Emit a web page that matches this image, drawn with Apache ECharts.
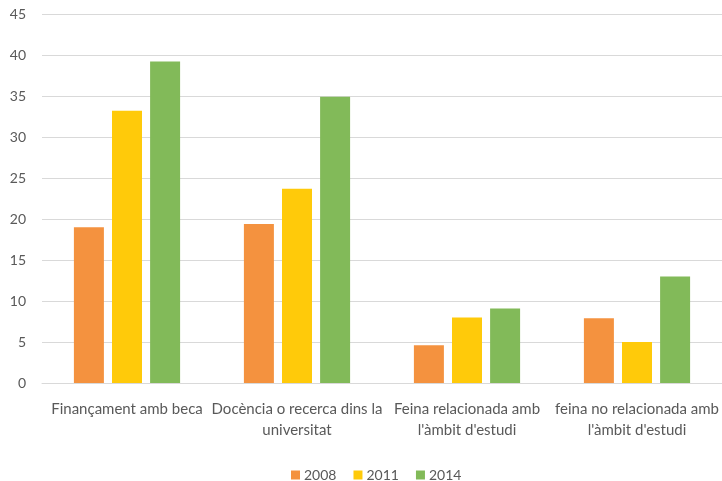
<!DOCTYPE html>
<html><head><meta charset="utf-8">
<script src="https://cdn.jsdelivr.net/npm/echarts@6/dist/echarts.min.js"></script>
<style>html,body{margin:0;padding:0;background:#fff}#c{width:722px;height:481px}</style>
</head><body><div id="c"></div>
<script>
var categories = ["Finançament amb beca", "Docència o recerca dins la\nuniversitat", "Feina relacionada amb\nl'àmbit d'estudi", "feina no relacionada amb\nl'àmbit d'estudi"];
var seriesNames = ["2008", "2011", "2014"];
var values2008 = [19.0, 19.4, 4.6, 7.9];
var values2011 = [33.2, 23.7, 8.0, 5.0];
var values2014 = [39.2, 34.9, 9.1, 13.0];
var yTicks = [0, 5, 10, 15, 20, 25, 30, 35, 40, 45];

var colors = ["#F4923F", "#FFCA0A", "#82BA59"];
var font = "Lato, 'Open Sans', sans-serif";
var data = [values2008, values2011, values2014];
var chart = echarts.init(document.getElementById('c'), null, {renderer: 'canvas'});
chart.setOption({
  animation: false,
  textStyle: {fontFamily: font},
  grid: {left: 42, right: 0, top: 14, bottom: 98, containLabel: false},
  legend: {
    data: seriesNames, left: 286, top: 463, itemWidth: 9, itemHeight: 9, itemGap: 17,
    icon: 'rect', textStyle: {color: '#595959', fontSize: 14, fontFamily: font, padding: [0,0,0,-1]}
  },
  xAxis: {
    type: 'category', data: categories,
    axisLine: {show: true, lineStyle: {color: '#d9d9d9'}},
    axisTick: {show: false},
    axisLabel: {color: '#595959', fontSize: 15, lineHeight: 21, margin: 16, interval: 0, fontFamily: font}
  },
  yAxis: {
    type: 'value', min: yTicks[0], max: yTicks[yTicks.length - 1], interval: 5,
    axisLine: {show: false}, axisTick: {show: false},
    splitLine: {lineStyle: {color: '#d9d9d9', width: 1}},
    axisLabel: {color: '#595959', fontSize: 14, margin: 16, fontFamily: font}
  },
  series: seriesNames.map(function (n, i) {
    return {
      name: n, type: 'bar', data: data[i], barWidth: 30, barGap: '27%',
      itemStyle: {color: colors[i]}
    };
  })
});
</script></body></html>
